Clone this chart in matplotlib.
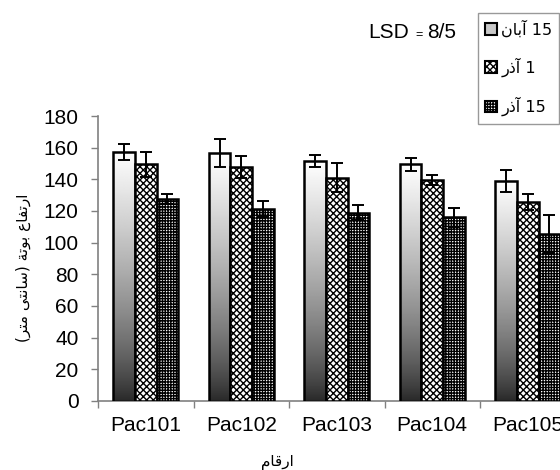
import numpy as np
import matplotlib
matplotlib.use("Agg")
import matplotlib.pyplot as plt
from matplotlib.patches import Patch

# ---- data ----
categories = ["Pac101", "Pac102", "Pac103", "Pac104", "Pac105"]
aban15 = [157.5, 156.5, 151.5, 149.5, 139.0]
azar1 = [149.5, 148.0, 141.0, 139.5, 125.5]
azar15 = [127.5, 121.5, 119.0, 116.0, 105.5]
err_aban15 = [5, 9, 4, 4, 7]
err_azar1 = [8, 7, 9, 3, 5]
err_azar15 = [3, 5, 5, 6, 12]
yticks = [0, 20, 40, 60, 80, 100, 120, 140, 160, 180]

# Arabic/Persian text pre-shaped in visual order (matplotlib has no bidi shaping)
lab_aban15 = "\uFEE5\uFE8E\uFE91\uFE81 15"      # 15 آبان
lab_azar1 = "\uFEAD\uFEAB\uFE81 1"               # 1 آذر
lab_azar15 = "\uFEAD\uFEAB\uFE81 15"             # 15 آذر
w_ertefa = "\uFEC9\uFE8E\uFED4\uFE97\uFEAD\uFE8D"
w_boote = "\uFE94\uFE97\uFEEE\uFE91"
w_santi = "\uFEF0\uFE98\uFEE7\uFE8E\uFEB3"
w_metr = "\uFEAE\uFE98\uFEE3"
ylab = "(" + w_metr + " " + w_santi + ") " + w_boote + " " + w_ertefa
xlab = "\uFEE1\uFE8E\uFED7\uFEAD\uFE8D"           # ارقام

plt.rcParams['font.family'] = ['Liberation Sans', 'DejaVu Sans']
plt.rcParams['hatch.linewidth'] = 1.0

fig = plt.figure(figsize=(5.6, 4.7), dpi=100)
W, H = 560, 470
ax = fig.add_axes([98 / W, 1 - 401 / H, (575.5 - 98) / W, (401 - 116) / H])

x = np.arange(len(categories))
bw = 0.227
ekw = dict(ecolor='black', elinewidth=1.4, capsize=4, capthick=1.4)

b1 = ax.bar(x - bw, aban15, bw, color='none', edgecolor='black', linewidth=1.8, zorder=3)
b2 = ax.bar(x, azar1, bw, color='white', edgecolor='black', linewidth=1.8, hatch='xxxxx', zorder=3)
b3 = ax.bar(x + bw, azar15, bw, color='white', edgecolor='black', linewidth=1.8, hatch='++++++', zorder=3)
ax.errorbar(x - bw, aban15, yerr=err_aban15, fmt='none', zorder=4, **ekw)
ax.errorbar(x, azar1, yerr=err_azar1, fmt='none', zorder=4, **ekw)
ax.errorbar(x + bw, azar15, yerr=err_azar15, fmt='none', zorder=4, **ekw)

# gradient fill for first series
grad = np.linspace(0.06, 1.0, 256).reshape(-1, 1) ** 0.65
for rect in b1:
    x0 = rect.get_x()
    h = rect.get_height()
    im = ax.imshow(grad, extent=(x0, x0 + rect.get_width(), 0, h), origin='lower',
                   cmap='gray', vmin=0, vmax=1, aspect='auto', zorder=2.5)
    im.set_clip_path(rect)

ax.set_xlim(-0.5, 4.5)
ax.set_ylim(0, 180)
ax.set_yticks(yticks)
ax.set_xticks(x)
ax.set_xticklabels(categories)
ax.set_xticks(np.arange(-0.5, 5.0, 1.0), minor=True)
ax.tick_params(axis='x', which='major', length=0, pad=11, labelsize=15)
ax.tick_params(axis='x', which='minor', length=5, color='#808080', width=1)
ax.tick_params(axis='y', length=5, color='#808080', width=1, pad=9, labelsize=15)
for s in ['top', 'right']:
    ax.spines[s].set_visible(False)
for s in ['left', 'bottom']:
    ax.spines[s].set_color('#808080')
    ax.spines[s].set_linewidth(1.2)

fig.text(23 / W, 1 - 268 / H, ylab, rotation=90, ha='center', va='center', fontsize=11,
         family=['DejaVu Sans'])
fig.text(277 / W, 1 - 463 / H, xlab, ha='center', va='center', fontsize=11,
         family=['DejaVu Sans'])

fig.text(368 / W, 1 - 33 / H, "LSD", ha='left', va='center', fontsize=15)
fig.text(419 / W, 1 - 35 / H, "=", ha='center', va='center', fontsize=9)
fig.text(427 / W, 1 - 33 / H, "8/5", ha='left', va='center', fontsize=15)

handles = [Patch(facecolor='#c8c8c8', edgecolor='black', linewidth=1.5),
           Patch(facecolor='white', edgecolor='black', hatch='xxxxx', linewidth=1.5),
           Patch(facecolor='white', edgecolor='black', hatch='++++++', linewidth=1.5)]
leg = fig.legend(handles, [lab_aban15, lab_azar1, lab_azar15], loc='upper left',
                 bbox_to_anchor=(478 / W, 1 - 13 / H), bbox_transform=fig.transFigure,
                 handlelength=0.75, handleheight=0.75, handletextpad=0.25,
                 labelspacing=1.25, borderpad=0.45, borderaxespad=0, fancybox=False, frameon=True,
                 prop={'family': ['DejaVu Sans'], 'size': 11.5})
leg.get_frame().set_edgecolor('#808080')
leg.get_frame().set_linewidth(1.0)

fig.savefig("out.png", dpi=100)
